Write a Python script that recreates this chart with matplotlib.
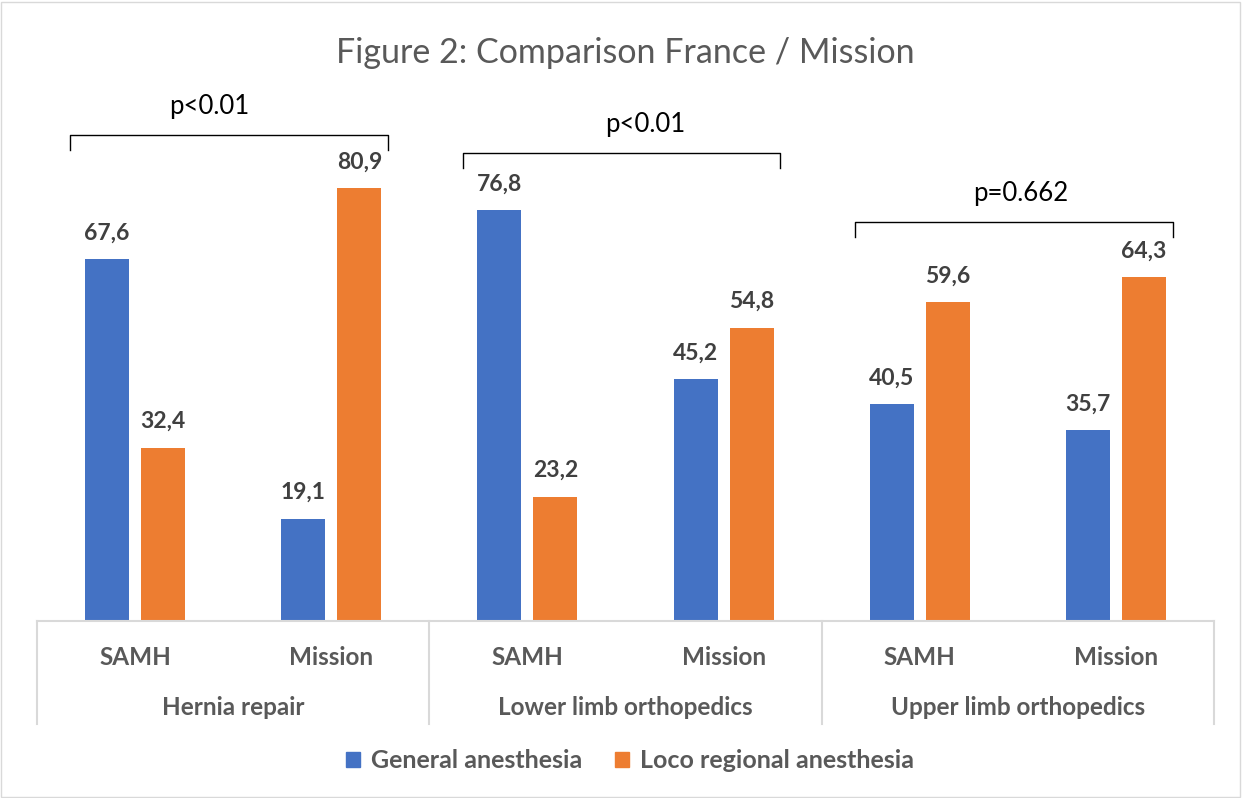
import matplotlib
matplotlib.use("Agg")
import matplotlib.pyplot as plt
from matplotlib.patches import Patch, Rectangle

groups = ["Hernia repair", "Lower limb orthopedics", "Upper limb orthopedics"]
subcats = ["SAMH", "Mission"]
general = [67.6, 19.1, 76.8, 45.2, 40.5, 35.7]
loco = [32.4, 80.9, 23.2, 54.8, 59.6, 64.3]
pvals = ["p<0.01", "p<0.01", "p=0.662"]
series_names = ["General anesthesia", "Loco regional anesthesia"]

# annotation placement (style)
bracket_y = [90.8, 87.5, 74.6]
ptext_x = [0.877, 3.099, 5.016]
blue = "#4472C4"
orange = "#ED7D31"
gray = "#595959"
dgray = "#404040"
lgray = "#D9D9D9"

plt.rcParams['font.family'] = ['Lato', 'DejaVu Sans']

W, H = 1243, 798
fig = plt.figure(figsize=(W / 100, H / 100), dpi=100)
ymax = 90
top_px = 621 - ymax * 5.35
ax = fig.add_axes([37 / W, (H - 621) / H, (1214 - 37) / W, (621 - top_px) / H])
ax.set_xlim(0, 6)
ax.set_ylim(0, ymax)
ax.axis("off")

n = len(general)
xs = [i + 0.5 for i in range(n)]
off = 0.143
bw = 0.224
ax.bar([x - off for x in xs], general, width=bw, color=blue, label=series_names[0])
ax.bar([x + off for x in xs], loco, width=bw, color=orange, label=series_names[1])
for x, g, l in zip(xs, general, loco):
    for xx, v in ((x - off, g), (x + off, l)):
        ax.text(xx, v + 4.9, f"{v:.1f}".replace(".", ","), ha="center", va="center",
                fontsize=16.5, fontweight="bold", color=dgray)

# category axis
ax.plot([0, 6], [0, 0], color=lgray, lw=1.5, clip_on=False)
for gx in [0, 2, 4, 6]:
    ax.plot([gx, gx], [0, -19.3], color=lgray, lw=1.5, clip_on=False)
for i, x in enumerate(xs):
    ax.text(x, -6.8, subcats[i % 2], ha="center", va="center", fontsize=17.5,
            fontweight="bold", color=gray)
for gi, g in enumerate(groups):
    ax.text(gi * 2 + 1, -16.2, g, ha="center", va="center", fontsize=17.5,
            fontweight="bold", color=gray)

# significance brackets
for gi, (p, by, tx) in enumerate(zip(pvals, bracket_y, ptext_x)):
    x0, x1 = gi * 2 + 0.17, gi * 2 + 1.79
    ax.plot([x0, x0, x1, x1], [by - 2.8, by, by, by - 2.8], color="black", lw=1,
            clip_on=False)
    ax.text(tx, by + 5.3, p, ha="center", va="center", fontsize=18.5,
            color="black")

fig.text(625 / W, 1 - 53 / H, "Figure 2: Comparison France / Mission", ha="center",
         va="center", fontsize=24.5, color=gray)

handles = [Patch(color=blue), Patch(color=orange)]
leg = fig.legend(handles, series_names, loc="center", bbox_to_anchor=(630 / W, 1 - 761 / H),
                 ncol=2, frameon=False, handlelength=0.55, handleheight=0.55,
                 handletextpad=0.45, columnspacing=1.3,
                 prop={"size": 18, "weight": "bold"})
for t in leg.get_texts():
    t.set_color(gray)

fig.patches.append(Rectangle((1 / W, 1 / H), 1 - 4 / W, 1 - 3 / H, transform=fig.transFigure,
                             fill=False, edgecolor=lgray, lw=1))

fig.savefig("out.png", dpi=100)
